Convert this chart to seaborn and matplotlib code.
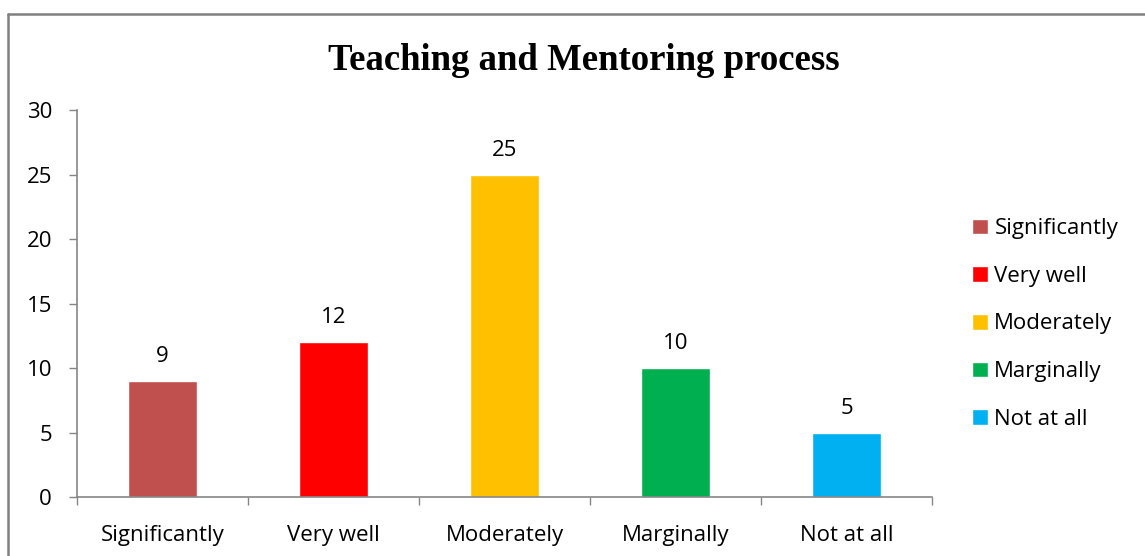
import pandas as pd
import seaborn as sns
import matplotlib.pyplot as plt
from matplotlib.lines import Line2D

categorias = ["Significantly", "Very well", "Moderately", "Marginally", "Not at all"]
valores = [9, 12, 25, 10, 5]
colores = ["#C0504D", "#FF0000", "#FFC000", "#00B050", "#00B0F0"]
yticks = [0, 5, 10, 15, 20, 25, 30]

df = pd.DataFrame({"Categoria": categorias, "Cantidad": valores})

sns.set_style("white")
plt.rcParams["font.family"] = ["Open Sans", "DejaVu Sans"]
plt.rcParams["text.color"] = "black"
plt.rcParams["xtick.labelcolor"] = "black"
plt.rcParams["ytick.labelcolor"] = "black"

fig = plt.figure(figsize=(11.45, 5.56), dpi=100)
ax = fig.add_axes([0.0672, 0.106, 0.7468, 0.696])

sns.barplot(
    data=df,
    x="Categoria",
    y="Cantidad",
    hue="Categoria",
    palette=colores,
    width=0.4,
    saturation=1,
    legend=True,
    ax=ax,
)

for cont in ax.containers:
    ax.bar_label(cont, padding=10, fontsize=16, color="black")

gris = "#868686"
ax.set_ylim(0, 30)
ax.set_xlim(-0.5, len(categorias) - 0.5)
ax.set_yticks(yticks)
ax.set_xticks(range(len(categorias)))
ax.set_xticks([i - 0.5 for i in range(len(categorias) + 1)], minor=True)
ax.tick_params(axis="y", which="major", length=6, width=1, color=gris,
               direction="out", left=True, pad=12, labelsize=16)
ax.tick_params(axis="x", which="major", length=0, pad=20, labelsize=16)
ax.tick_params(axis="x", which="minor", length=6, width=1, color=gris,
               direction="out", bottom=True)
for s in ["top", "right"]:
    ax.spines[s].set_visible(False)
for s in ["left", "bottom"]:
    ax.spines[s].set_color(gris)
    ax.spines[s].set_linewidth(1.2)
ax.set_xlabel("")
ax.set_ylabel("")

handles, labels = ax.get_legend_handles_labels()
ax.legend(handles, labels, loc="center left",
          bbox_to_anchor=(961 / 1145, 1 - 324 / 556), bbox_transform=fig.transFigure,
          frameon=False, fontsize=16, handlelength=0.7, handleheight=0.7,
          handletextpad=0.3, labelspacing=1.2, borderpad=0)

fig.text(0.51, 1 - 61 / 556, "Teaching and Mentoring process", ha="center", va="center",
         fontsize=26.5, fontweight="bold", color="black",
         family=["Liberation Serif", "DejaVu Serif"])

# borde del área del gráfico
fig.add_artist(Line2D([8 / 1145, 8 / 1145], [0, 1 - 13.5 / 556],
                      transform=fig.transFigure, color="#808080", lw=1.8))
fig.add_artist(Line2D([8 / 1145, 1], [1 - 13.5 / 556, 1 - 13.5 / 556],
                      transform=fig.transFigure, color="#808080", lw=1.8))

fig.savefig("out.png", dpi=100)
